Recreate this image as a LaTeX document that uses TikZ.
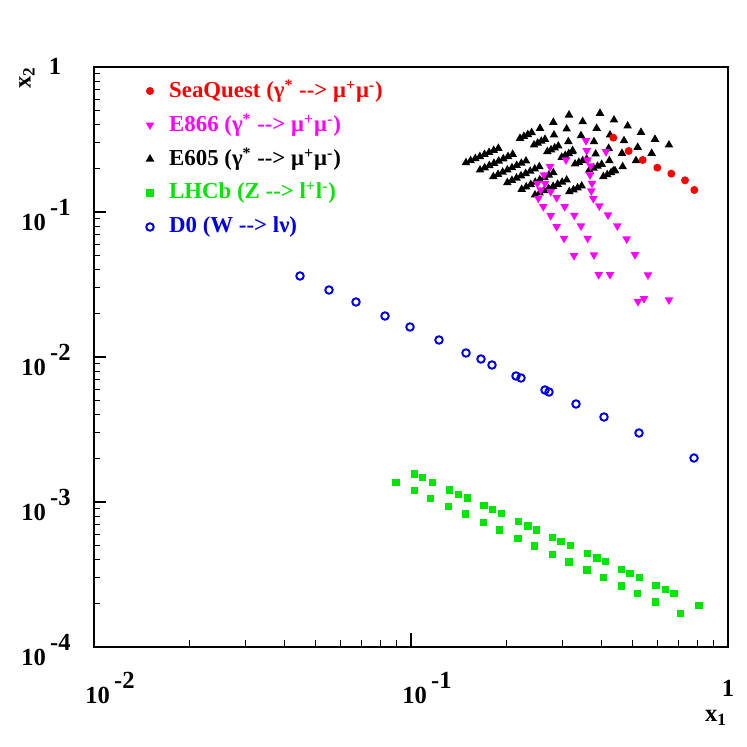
\documentclass[tikz,border=0pt]{standalone}
\usepackage{fontspec}
\setmainfont{Liberation Serif}
\usetikzlibrary{shapes.geometric,calc}
\definecolor{rootmagenta}{RGB}{255,0,255}
\definecolor{rootgreen}{RGB}{0,230,0}
\definecolor{rootred}{RGB}{255,0,0}
\definecolor{rootblue}{RGB}{0,0,230}
\newcommand{\arr}{-{}-{}>}

\begin{document}
\begin{tikzpicture}[x=0.02cm,y=-0.02cm,
    lab/.style={font=\fontsize{14}{16}\selectfont\bfseries},
    leg/.style={font=\fontsize{13}{15}\selectfont\bfseries, anchor=west},
    dotred/.style={circle, fill=rootred, inner sep=0, minimum size=0.16cm},
    triup/.style={regular polygon, regular polygon sides=3, fill=black, inner sep=0, minimum size=0.2cm},
    tridown/.style={regular polygon, regular polygon sides=3, shape border rotate=180, fill=rootmagenta, inner sep=0, minimum size=0.2cm},
    sqgreen/.style={rectangle, fill=rootgreen, inner sep=0, minimum size=0.15cm},
    ringblue/.style={circle, draw=rootblue, line width=1.1pt, inner sep=0, minimum size=0.15cm}]
        \useasboundingbox (0,0) rectangle (747,747);

        % Frame and log ticks
        \draw[line width=0.7pt] (94,67) rectangle (728,647);
        \foreach \d in {0,1} {
            \draw[line width=0.6pt] ({94+317*\d},647) -- ++(0,-14);
            \foreach \k in {2,...,9} {
                \pgfmathsetmacro{\xt}{94+317*(\d+log10(\k))}
                \draw[line width=0.6pt] (\xt,647) -- ++(0,-7);
            }
        }
        \foreach \d in {0,...,3} {
            \draw[line width=0.6pt] (94,{647-145*\d}) -- ++(12,0);
            \foreach \k in {2,...,9} {
                \pgfmathsetmacro{\yt}{647-145*(\d+log10(\k))}
                \draw[line width=0.6pt] (94,\yt) -- ++(6,0);
            }
        }

        % Axis labels
        \node[lab] (xlo) at (110,688) {10\,\raisebox{1.3ex}{-2}};
        \node[lab] (xmid) at (427,688) {10\,\raisebox{1.3ex}{-1}};
        \node[lab] (xhi) at (728,688) {1};
        \node[lab] (xname) at (716,718) {x\textsubscript{1}};
        \node[lab] (ylo) at (46,650) {10\,\raisebox{1.3ex}{-4}};
        \node[lab] (y3) at (46,505) {10\,\raisebox{1.3ex}{-3}};
        \node[lab] (y2) at (46,360) {10\,\raisebox{1.3ex}{-2}};
        \node[lab] (y1) at (46,215) {10\,\raisebox{1.3ex}{-1}};
        \node[lab] (yhi) at (55,66) {1};
        \node[lab, rotate=90] (yname) at (27,78) {x\textsubscript{2}};

        % Legend
        \node[dotred] (mk1) at (150,91) {};
        \node[tridown] (mk2) at (150,125) {};
        \node[triup] (mk3) at (150,159) {};
        \node[sqgreen] (mk4) at (150,193) {};
        \node[ringblue] (mk5) at (150,227) {};
        \node[leg, text=rootred] (t1) at (163,91) {SeaQuest (γ\textsuperscript{*} \arr{} μ\textsuperscript{+}μ\textsuperscript{-})};
        \node[leg, text=rootmagenta] (t2) at (163,125) {E866 (γ\textsuperscript{*} \arr{} μ\textsuperscript{+}μ\textsuperscript{-})};
        \node[leg, text=black] (t3) at (163,159) {E605 (γ\textsuperscript{*} \arr{} μ\textsuperscript{+}μ\textsuperscript{-})};
        \node[leg, text=rootgreen] (t4) at (163,193) {LHCb (Z \arr{} l\textsuperscript{+}l\textsuperscript{-})};
        \node[leg, text=rootblue] (t5) at (163,227) {D0 (W \arr{} lν)};

        % D0
        \foreach \px/\py in {300/276,329/290,356/302,385/316,410/327,439/340,466/353,481/359,492/365,
            516/376,521/378,545/390,549/392,576/404,604/417,639/433,694/458}
            \node[ringblue] at (\px,\py) {};

        % LHCb
        \begin{scope}[shift={(380,460)}, x=0.02cm/3, y=-0.02cm/3]
        \foreach \px/\py in {48/67,104/42,128/52,158/67,103/92,152/115,208/90,236/103,262/114,206/140,
            257/162,312/137,337/149,365/161,310/187,359/210,415/185,444/198,469/210,414/235,463/258,
            518/232,543/244,572/257,517/283,567/306,622/280,651/294,676/305,621/330,670/353,725/328,
            750/340,779/353,724/378,773/401,828/376,857/389,882/401,827/426,902/461,957/436}
            \node[sqgreen] at (\px,\py) {};
        \end{scope}

        \begin{scope}[shift={(450,100)}, x=0.02cm/3, y=-0.02cm/3]
        % E605
        \foreach \ax/\ay/\bx/\by in {48/188/145/145,90/210/188/163,130/230/228/183,172/248/268/200,
            215/268/310/218,255/285/350/240}
            \foreach \i in {0,...,7}
                \node[triup] at ($(\ax,\ay)!\i/7!(\bx,\by)$) {};
        \foreach \ax/\ay/\bx/\by in {210/115/245/98,252/135/285/118,292/155/325/138,335/172/367/155,
            375/192/410/177,418/210/455/193,460/230/495/212,358/275/395/258}
            \foreach \i in {0,...,3}
                \node[triup] at ($(\ax,\ay)!\i/3!(\bx,\by)$) {};
        \foreach \px/\py in {357/45,450/40,310/67,398/65,492/60,270/85,350/87,440/85,533/78,573/97,
            312/105,393/107,480/105,615/118,355/125,432/125,522/122,657/135,368/152,476/145,563/142,
            437/162,516/160,605/160,478/182,558/182,518/200,490/213}
            \node[triup] at (\px,\py) {};
        % E866
        \foreach \px/\py in {408/122,410/152,468/155,348/180,412/180,300/200,422/198,282/225,262/250,
            285/250,420/225,426/250,272/270,302/275,424/273,265/295,320/293,430/296,280/320,344/320,
            448/318,302/347,373/346,474/345,320/380,393/378,502/378,342/415,413/415,530/417,372/467,
            432/465,555/464,446/524,480/524,594/525,564/605,582/596,657/600}
            \node[tridown] at (\px,\py) {};
        % SeaQuest
        \foreach \px/\py in {490/113,536/153,578/180,622/203,664/221,705/241,733/270}
            \node[dotred] at (\px,\py) {};
        \end{scope}
    \end{tikzpicture}
\end{document}
